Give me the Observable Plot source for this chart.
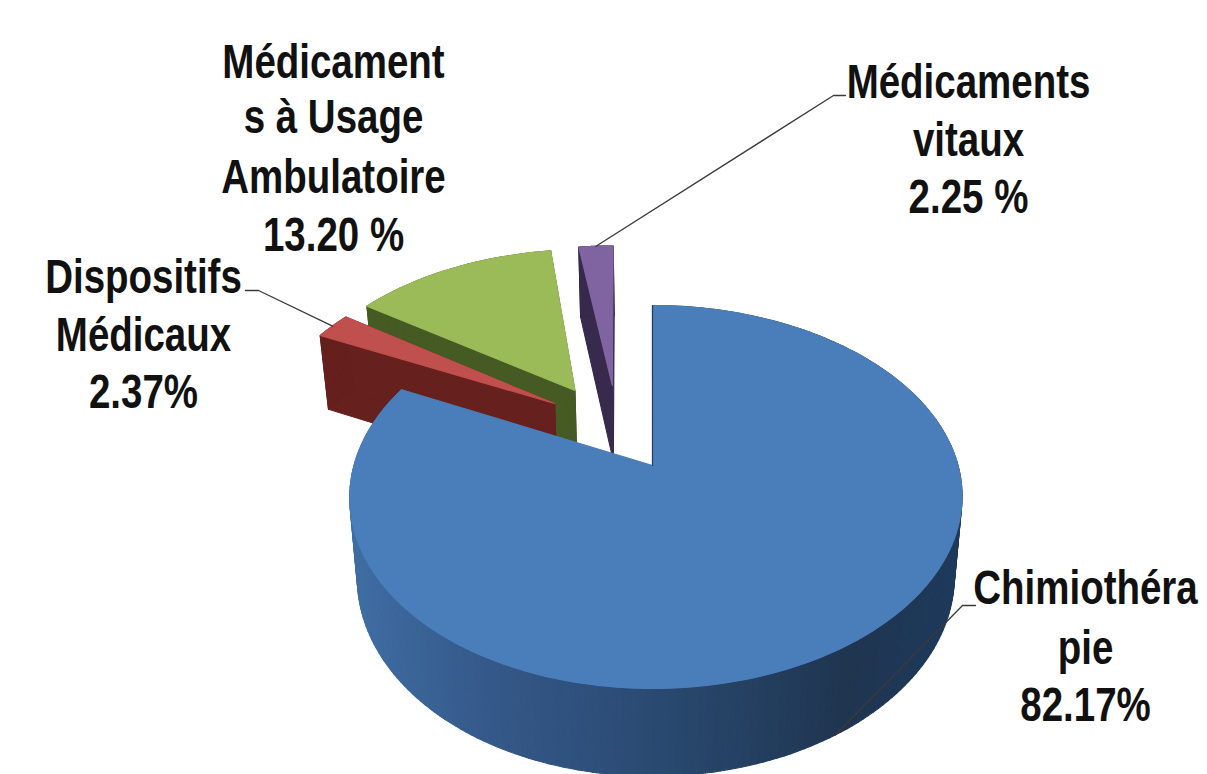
<!DOCTYPE html>
<html><head><meta charset="utf-8">
<style>html,body{margin:0;padding:0;background:#fff}svg{display:block}</style>
<script src="https://cdn.jsdelivr.net/npm/d3@7"></script>
<script src="https://cdn.jsdelivr.net/npm/@observablehq/plot@0.6"></script>
</head><body><script>
// data
const categories = ["Chimiothérapie","Dispositifs Médicaux","Médicaments à Usage Ambulatoire","Médicaments vitaux"];
const shares = [82.17,2.37,13.20,2.25];
const labelLines = [
  ["Chimiothéra","pie","82.17%"],
  ["Dispositifs","Médicaux","2.37%"],
  ["Médicament","s à Usage","Ambulatoire","13.20 %"],
  ["Médicaments","vitaux","2.25 %"]
];
const topColors = ["#4a7ebb","#c0504d","#9bbb59","#8064a2"];
const sideColors = ["#2a4a72","#66201d","#465a24","#372a4d"];

// layout
const W=1207,H=774,CX=652,CY=465,A=302,B=186.3,K=-0.1645;
const offsets=[[0,0],[-.343,-.352],[-.275,-.431],[-.143,-.462]];
const labelX=[1085,143,333,968];
const labelY=[[588,648,705],[277,335,392],[62,117,177,235],[82,140,197]];
const elbows=[[[975,605],[962,605]],[[245,290],[258,290]],null,[[845,95],[833,95]]];

// projection of the disc plane to the picture (a perspective view)
const proj=(u,v)=>{const d=1+K*v;return [CX+A*u/d,CY+B*v/d];};
const drop=([x,y])=>[CX+(x-CX)*0.975,y+70+(y-245)*0.04];
const total=d3.sum(shares);
let acc=0;
const slices=shares.map((s,i)=>{const a0=acc/total*2*Math.PI;acc+=s;return{i,a0,a1:acc/total*2*Math.PI};});
const rim=(s,a)=>{
  const p=proj(offsets[s.i][0]+Math.sin(a),offsets[s.i][1]-Math.cos(a));
  if(s.i===0)p[0]+=3.5*Math.sin(a)**2;
  if(s.i===3)p[0]-=4.5;
  return p;
};
const apex=s=>proj(offsets[s.i][0],offsets[s.i][1]);
const arc=(s,n)=>d3.range(n+1).map(k=>rim(s,s.a0+(s.a1-s.a0)*k/n));

const polys=[];let pid=0;
const add=(pts,fill)=>{const id=pid++;pts.forEach(([x,y])=>polys.push({x,y,id,fill}));};

const wallScale=d3.scaleLinear().domain([352,480,650,850,955]).range(["#3f6da3","#35598a","#2a4a72","#1f3550","#1e3a5c"]);

// exploded slices, back to front
[3,2,1].forEach(i=>{
  const s=slices[i],c=sideColors[i],a=apex(s),r=arc(s,24);
  add([a,drop(a),drop(r[0]),r[0]],c);
  add([a,drop(a),drop(r[24]),r[24]],c);
  r.slice(1).forEach((p,k)=>add([r[k],p,drop(p),drop(r[k])],c));
  add([a,...r],topColors[i]);
});
// main slice wall as shaded strips
const main=slices[0],rm=arc(main,240);
rm.slice(1).forEach((p,k)=>{
  const q=rm[k];
  add([q,p,drop(p),drop(q)],wallScale(Math.min(955,Math.max(352,(p[0]+q[0])/2))));
});
add([apex(main),...rm],topColors[0]);

// leader lines
const leaders=[];
const mid=s=>(s.a0+s.a1)/2;
[[elbows[0],drop(rim(main,mid(main)))],
 [elbows[1],rim(slices[1],mid(slices[1]))],
 [elbows[3],rim(slices[3],mid(slices[3]))]].forEach(([e,end],j)=>{
  [...e,end].forEach(([x,y])=>leaders.push({x,y,j}));
});

const textRows=labelLines.flatMap((l,i)=>l.map((t,k)=>({t,x:labelX[i],y:labelY[i][k]})));
const notch=[rm[0],apex(main)].map(([x,y])=>({x,y}));

const chart=Plot.plot({
  width:W,height:H,margin:0,
  x:{domain:[0,W],range:[0,W],axis:null},
  y:{domain:[0,H],range:[0,H],axis:null},
  color:{type:"identity"},
  marks:[
    Plot.line(polys,{x:"x",y:"y",z:"id",fill:"fill",stroke:"fill",strokeWidth:1.1,curve:"linear-closed"}),
    Plot.line(notch,{x:"x",y:"y",stroke:"#1f3f66",strokeWidth:1.2}),
    Plot.line(leaders,{x:"x",y:"y",z:"j",stroke:"#3a3a3a",strokeWidth:1.3}),
    Plot.text(textRows,{x:"x",y:"y",text:"t",fontFamily:"Liberation Sans",fontWeight:"bold",fontSize:49,textAnchor:"middle",fill:"#111"})
  ]
});
document.body.append(chart);
// the reference's lettering is condensed: squeeze each line horizontally
chart.querySelectorAll("text").forEach(t=>{
  t.setAttribute("textLength",(t.getComputedTextLength()*0.785).toFixed(1));
  t.setAttribute("lengthAdjust","spacingAndGlyphs");
});
</script></body></html>
